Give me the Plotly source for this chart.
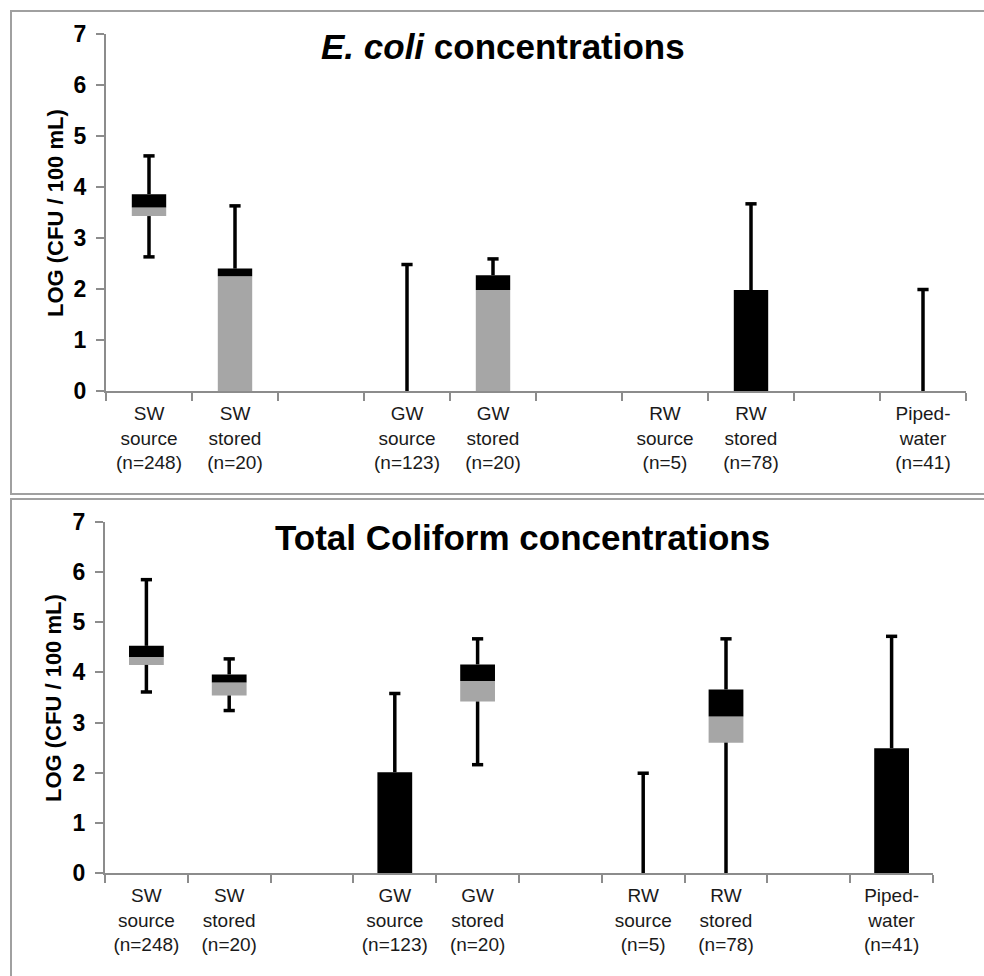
import plotly.graph_objects as go

# ---------------- data ----------------
categories = ["SW<br>source<br>(n=248)", "SW<br>stored<br>(n=20)",
              "GW<br>source<br>(n=123)", "GW<br>stored<br>(n=20)",
              "RW<br>source<br>(n=5)", "RW<br>stored<br>(n=78)",
              "Piped-<br>water<br>(n=41)"]
# category slots along the axis (blank slots separate the water types)
slot_order = [categories[0], categories[1], " ",
              categories[2], categories[3], "  ",
              categories[4], categories[5], "   ",
              categories[6]]

# E. coli, log10 CFU/100 mL
ecoli_min = [2.63, 0.00, 0.00, 0.00, 0.00, 0.00, 0.00]
ecoli_q1 = [3.43, 0.00, 0.00, 0.00, 0.00, 0.00, 0.00]
ecoli_med = [3.60, 2.25, 0.00, 1.98, 0.00, 0.00, 0.00]
ecoli_q3 = [3.86, 2.40, 0.00, 2.27, 0.00, 1.98, 0.00]
ecoli_max = [4.61, 3.63, 2.48, 2.59, 0.00, 3.67, 1.99]

# Total coliform, log10 CFU/100 mL
tc_min = [3.61, 3.24, 0.00, 2.16, 0.00, 0.00, 0.00]
tc_q1 = [4.15, 3.54, 0.00, 3.42, 0.00, 2.60, 0.00]
tc_med = [4.31, 3.80, 0.00, 3.83, 0.00, 3.12, 0.00]
tc_q3 = [4.53, 3.96, 2.01, 4.16, 0.00, 3.66, 2.49]
tc_max = [5.85, 4.27, 3.58, 4.67, 1.99, 4.67, 4.72]

y_title = "LOG (CFU / 100 mL)"
title_top = "<b><i>E. coli</i> concentrations</b>"
title_bottom = "<b>Total Coliform concentrations</b>"

# ---------------- styling ----------------
W, H = 984, 976
FONT = "Liberation Sans, Arial, sans-serif"
GRAY = "#a6a6a6"
AXIS = "#8c8c8c"
BORDER = "#a0a0a0"


def px_x(p):
    return p / W


def px_y(p):
    return 1 - p / H


fig = go.Figure()


def add_panel(xa, ya, mins, q1, med, q3, maxs, bar_w):
    # make sure all slots exist
    fig.add_trace(go.Scatter(x=slot_order, y=[None] * len(slot_order), mode="markers",
                             xaxis=xa, yaxis=ya, hoverinfo="skip", showlegend=False))
    gray_h = [m - a for m, a in zip(med, q1)]
    black_h = [b - m for b, m in zip(q3, med)]
    fig.add_trace(go.Bar(x=categories, y=gray_h, base=q1, width=bar_w,
                         marker=dict(color=GRAY, line=dict(width=0)),
                         xaxis=xa, yaxis=ya, showlegend=False))
    fig.add_trace(go.Bar(x=categories, y=black_h, base=med, width=bar_w,
                         marker=dict(color="black", line=dict(width=0)),
                         xaxis=xa, yaxis=ya, showlegend=False))
    # upper whiskers
    fig.add_trace(go.Scatter(
        x=categories, y=q3, mode="markers",
        marker=dict(size=1, color="rgba(0,0,0,0)"),
        error_y=dict(type="data", symmetric=False,
                     array=[mx - b for mx, b in zip(maxs, q3)],
                     arrayminus=[0] * len(q3), width=0, thickness=3.5, color="black"),
        xaxis=xa, yaxis=ya, showlegend=False, hoverinfo="skip"))
    # lower whiskers
    fig.add_trace(go.Scatter(
        x=categories, y=q1, mode="markers",
        marker=dict(size=1, color="rgba(0,0,0,0)"),
        error_y=dict(type="data", symmetric=False,
                     array=[0] * len(q1),
                     arrayminus=[a - mn for a, mn in zip(q1, mins)], width=0,
                     thickness=3.5, color="black"),
        xaxis=xa, yaxis=ya, showlegend=False, hoverinfo="skip"))
    # caps
    cx, cy = [], []
    for c, mx, b in zip(categories, maxs, q3):
        if mx > b:
            cx.append(c)
            cy.append(mx)
    for c, mn, a in zip(categories, mins, q1):
        if 0 < mn < a:
            cx.append(c)
            cy.append(mn)
    fig.add_trace(go.Scatter(
        x=cx, y=cy, mode="markers",
        marker=dict(symbol="line-ew", size=8, line=dict(width=3.5, color="black")),
        xaxis=xa, yaxis=ya, showlegend=False, hoverinfo="skip"))


add_panel("x", "y", ecoli_min, ecoli_q1, ecoli_med, ecoli_q3, ecoli_max, 0.4)
add_panel("x2", "y2", tc_min, tc_q1, tc_med, tc_q3, tc_max, 0.42)

xcommon = dict(type="category", categoryorder="array", categoryarray=slot_order,
               range=[-0.5, len(slot_order) - 0.5], tickson="boundaries",
               ticks="outside", ticklen=8, tickwidth=2, tickcolor=AXIS,
               showline=True, linecolor=AXIS, linewidth=2, showgrid=False,
               zeroline=False, automargin=False, ticklabelstandoff=4,
               tickfont=dict(family=FONT, size=19, color="#1a1a1a"),
               fixedrange=True)
ycommon = dict(range=[0, 7], dtick=1, tick0=0, ticks="outside", ticklen=8, tickwidth=2,
               tickcolor=AXIS, showline=True, linecolor=AXIS, linewidth=2,
               showgrid=False, zeroline=False, automargin=False, ticklabelstandoff=5,
               tickfont=dict(family=FONT, size=23, color="black", weight="bold"),
               fixedrange=True)

fig.update_layout(
    width=W, height=H, autosize=False,
    margin=dict(l=0, r=0, t=0, b=0, pad=0, autoexpand=False),
    paper_bgcolor="white", plot_bgcolor="white",
    barmode="overlay", showlegend=False,
    xaxis=dict(domain=[px_x(106), px_x(966)], anchor="y", **xcommon),
    yaxis=dict(domain=[px_y(391), px_y(34)], anchor="x", **ycommon),
    xaxis2=dict(domain=[px_x(105), px_x(933)], anchor="y2", **xcommon),
    yaxis2=dict(domain=[px_y(873), px_y(522)], anchor="x2", **ycommon),
)

fig.update_layout(
    shapes=[
        dict(type="rect", xref="paper", yref="paper", x0=px_x(11), x1=px_x(1000),
             y0=px_y(494), y1=px_y(11), line=dict(color=BORDER, width=2), layer="below"),
        dict(type="rect", xref="paper", yref="paper", x0=px_x(11), x1=px_x(1000),
             y0=px_y(1000), y1=px_y(499), line=dict(color=BORDER, width=2), layer="below"),
    ],
    annotations=[
        dict(text=title_top, xref="paper", yref="paper", x=px_x(503), y=px_y(47),
             xanchor="center", yanchor="middle", showarrow=False,
             font=dict(family=FONT, size=35, color="black")),
        dict(text=title_bottom, xref="paper", yref="paper", x=px_x(522), y=px_y(537),
             xanchor="center", yanchor="middle", showarrow=False,
             font=dict(family=FONT, size=35, color="black")),
        dict(text="<b>" + y_title + "</b>", xref="paper", yref="paper", x=px_x(55),
             y=px_y(213), textangle=-90, xanchor="center", yanchor="middle",
             showarrow=False, font=dict(family=FONT, size=22, color="black")),
        dict(text="<b>" + y_title + "</b>", xref="paper", yref="paper", x=px_x(53),
             y=px_y(698), textangle=-90, xanchor="center", yanchor="middle",
             showarrow=False, font=dict(family=FONT, size=22, color="black")),
    ],
)

fig.write_html("out.html")
